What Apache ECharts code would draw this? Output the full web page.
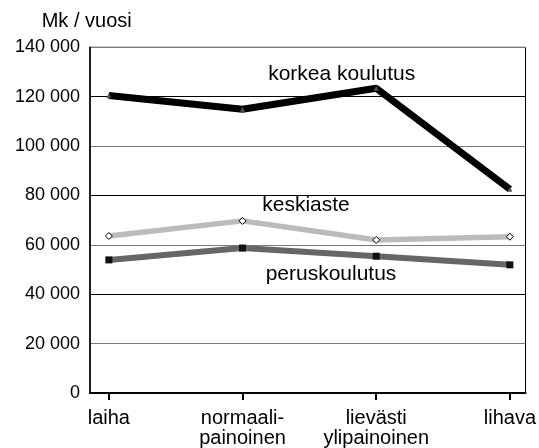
<!DOCTYPE html>
<html>
<head>
<meta charset="utf-8">
<script src="https://cdn.jsdelivr.net/npm/echarts@6/dist/echarts.min.js"></script>
<style>
html,body{margin:0;padding:0;background:#fff;}
#chart{width:539px;height:448px;}
</style>
</head>
<body>
<div id="chart"></div>
<script>
const categories = ['laiha', 'normaali-\npainoinen', 'lievästi\nylipainoinen', 'lihava'];
const korkeaKoulutus = [120500, 114900, 123400, 82500];
const keskiaste = [63600, 69700, 62000, 63300];
const peruskoulutus = [53900, 58700, 55400, 51900];
const yTicks = [0, 20000, 40000, 60000, 80000, 100000, 120000, 140000];
const seriesNames = ['korkea koulutus', 'keskiaste', 'peruskoulutus'];
const axisTitle = 'Mk / vuosi';

const FONT = '"Liberation Sans", Arial, sans-serif';
const idx = categories.map((c, i) => i);
const toPairs = arr => arr.map((v, i) => [i, v]);
const fmt = v => String(v).replace(/\B(?=(\d{3})+(?!\d))/g, ' ');

const chart = echarts.init(document.getElementById('chart'), null, {renderer: 'canvas'});
chart.setOption({
  animation: false,
  backgroundColor: '#fff',
  grid: {
    left: 90, right: 4, top: 47.3, bottom: 54.7,
    show: true, borderColor: '#000', borderWidth: 1, backgroundColor: 'transparent'
  },
  xAxis: {
    type: 'value',
    min: -0.141, max: 3.117,
    splitLine: {show: false},
    axisLine: {show: true, onZero: false, lineStyle: {color: '#000', width: 2}},
    axisTick: {show: true, customValues: idx, length: 7, inside: false, lineStyle: {color: '#000', width: 2}},
    axisLabel: {
      customValues: idx,
      formatter: v => categories[Math.round(v)],
      color: '#000', fontFamily: FONT, fontSize: 20, lineHeight: 20, margin: 15,
      align: 'center'
    }
  },
  yAxis: {
    type: 'value',
    min: yTicks[0], max: yTicks[yTicks.length - 1], interval: yTicks[1] - yTicks[0],
    axisLine: {show: true, onZero: false, lineStyle: {color: '#000', width: 1.5}},
    axisTick: {show: false},
    splitLine: {show: true, lineStyle: {color: ['#000', '#7a7a7a'], width: 1}},
    axisLabel: {
      formatter: v => fmt(v), color: '#000', fontFamily: FONT, fontSize: 18, margin: 10
    }
  },
  series: [
    {
      name: seriesNames[0], type: 'line', data: toPairs(korkeaKoulutus),
      lineStyle: {color: '#000', width: 7}, itemStyle: {color: '#555'},
      symbol: 'triangle', symbolSize: 5, z: 5
    },
    {
      name: seriesNames[1], type: 'line', data: toPairs(keskiaste),
      lineStyle: {color: '#bbbbbb', width: 5.5},
      itemStyle: {color: '#fff', borderColor: '#000', borderWidth: 1},
      symbol: 'diamond', symbolSize: 7, z: 4
    },
    {
      name: seriesNames[2], type: 'line', data: toPairs(peruskoulutus),
      lineStyle: {color: '#666666', width: 6}, itemStyle: {color: '#111'},
      symbol: 'rect', symbolSize: 7, z: 4
    }
  ],
  graphic: [
    {type: 'text', left: 41.7, top: 11, style: {text: axisTitle, font: '20px ' + FONT, fill: '#000'}},
    {type: 'text', x: 341.7, y: 74, style: {text: seriesNames[0], font: '21px ' + FONT, fill: '#000', align: 'center', verticalAlign: 'middle'}},
    {type: 'text', x: 306, y: 205, style: {text: seriesNames[1], font: '21px ' + FONT, fill: '#000', align: 'center', verticalAlign: 'middle'}},
    {type: 'text', x: 331, y: 274.5, style: {text: seriesNames[2], font: '21px ' + FONT, fill: '#000', align: 'center', verticalAlign: 'middle'}}
  ]
});
</script>
</body>
</html>
